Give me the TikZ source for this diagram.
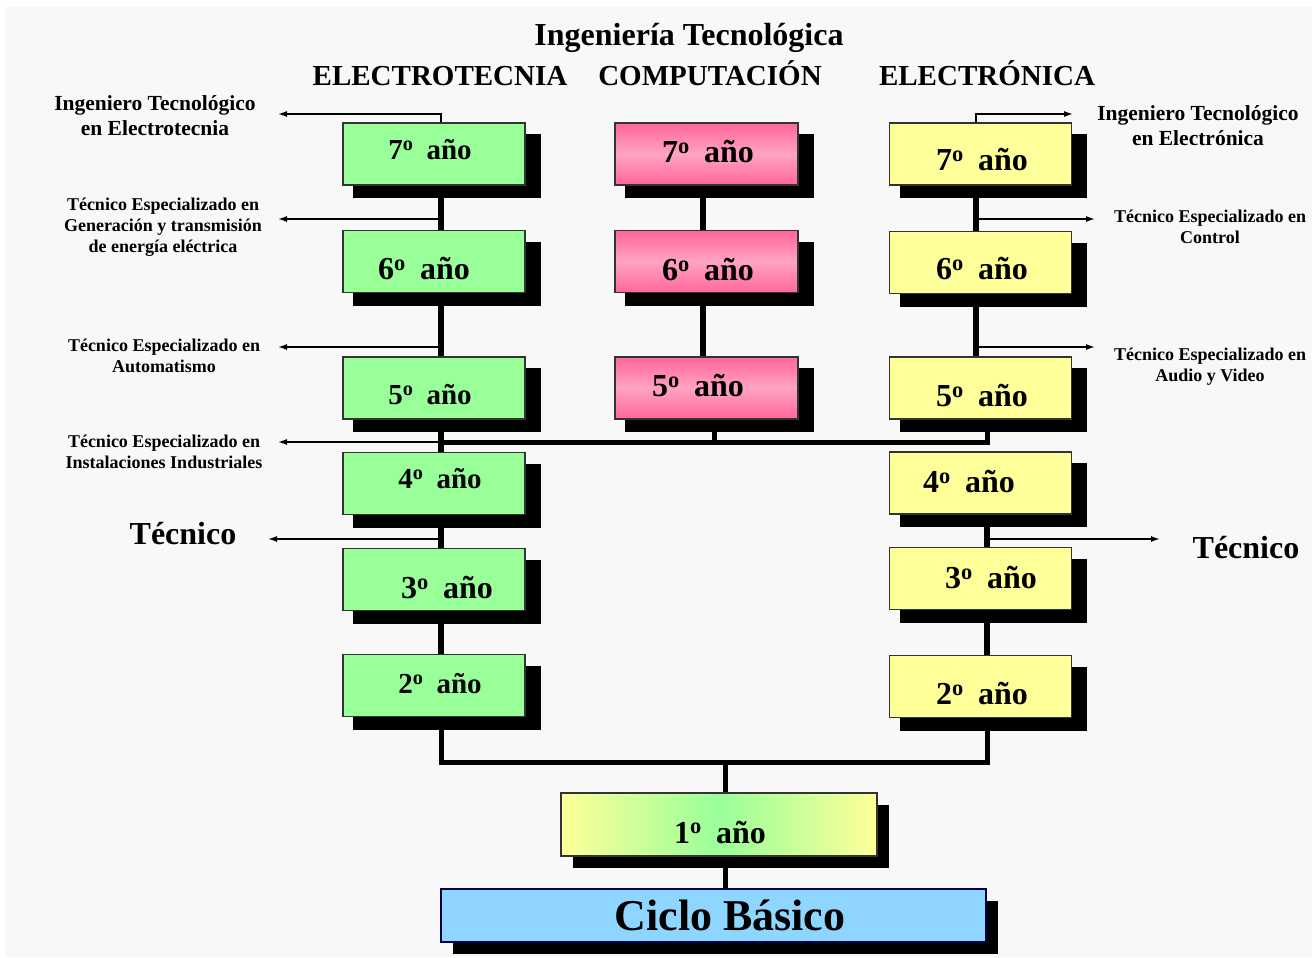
\documentclass[tikz,border=0pt]{standalone}
\usepackage{fontspec}
\setmainfont{Liberation Serif}
\usepackage{xcolor}
\usetikzlibrary{positioning,arrows.meta,shadows}
\definecolor{bgc}{HTML}{F8F8F8}
\definecolor{elecc}{HTML}{99FF99}
\definecolor{tronc}{HTML}{FFFF99}
\definecolor{pinkd}{HTML}{FF6699}
\definecolor{pinkl}{HTML}{FFA3C4}
\definecolor{basc}{HTML}{8ED6FF}
\definecolor{boxc}{HTML}{333333}
\newcommand{\anio}[1]{#1\textsuperscript{o}\hspace{0.45em}año}

\begin{document}
\begin{tikzpicture}[x=1pt,y=-1pt,
    plainbox/.style={draw=boxc, line width=1.2pt, minimum width=182pt, minimum height=62pt, inner sep=0pt},
    box/.style={plainbox,
      drop shadow={shadow xshift=12.5pt, shadow yshift=-12pt, shadow scale=1.03, opacity=1, fill=black}},
    widebox/.style={plainbox,
      drop shadow={shadow xshift=12pt, shadow yshift=-12pt, opacity=1, fill=black}},
    ebox/.style={box, fill=elecc},
    cbox/.style={box, top color=pinkd, bottom color=pinkd, middle color=pinkl},
    tbox/.style={box, fill=tronc},
    yrbig/.style={font=\bfseries\fontsize{32}{36}\selectfont},
    yrsmall/.style={font=\bfseries\fontsize{29}{33}\selectfont},
    colhead/.style={font=\bfseries\fontsize{29}{33}\selectfont, anchor=base},
    lab/.style={font=\bfseries\fontsize{18}{21}\selectfont, align=center},
    lablg/.style={font=\bfseries\fontsize{21.5}{25}\selectfont, align=center},
    tec/.style={font=\bfseries\fontsize{32}{36}\selectfont},
    spine/.style={line width=6pt},
    joinbar/.style={line width=5pt},
    outarr/.style={line width=1.5pt, -{Latex[length=9pt,width=6pt]}}]
  \useasboundingbox (0,0) rectangle (1315,958);
  \fill[bgc] (5,7) rectangle (1312,957);

  % titles
  \node[font=\bfseries\fontsize{32}{36}\selectfont, anchor=base] (titulo) at (689,46) {Ingeniería Tecnológica};
  \node[colhead] (hE) at (440,85) {ELECTROTECNIA};
  \node[colhead] (hC) at (710,85) {COMPUTACIÓN};
  \node[colhead] (hT) at (987,85) {ELECTRÓNICA};

  % ELECTROTECNIA boxes
  \foreach \n/\y in {7/154,6/261.5,5/388,4/483.5,3/579.5,2/685.5}
    {\node[ebox] (e\n) at (434,\y) {};}
  % COMPUTACION boxes
  \foreach \n/\y in {7/154,6/261.5,5/388}
    {\node[cbox, minimum width=183pt] (c\n) at (706.5,\y) {};}
  % ELECTRONICA boxes
  \foreach \n/\y in {7/154,6/262.5,5/388,4/483,3/578.5,2/686.5}
    {\node[tbox] (t\n) at (980.5,\y) {};}
  % common boxes
  \node[widebox, minimum width=316pt, minimum height=63pt, left color=tronc, right color=tronc, middle color=elecc] (b1) at (719,824.5) {};
  \node[widebox, fill=basc, draw=black!70!blue, minimum width=545pt, minimum height=53pt] (cb) at (713.5,915.5) {};

  % year texts
  \node[yrsmall] (e7t) at (430,150) {\anio{7}};
  \node[yrbig]   (e6t) at (424,269) {\anio{6}};
  \node[yrsmall] (e5t) at (430,395) {\anio{5}};
  \node[yrsmall] (e4t) at (440,479) {\anio{4}};
  \node[yrbig]   (e3t) at (447,588) {\anio{3}};
  \node[yrsmall] (e2t) at (440,684) {\anio{2}};
  \node[yrbig] (c7t) at (708,152) {\anio{7}};
  \node[yrbig] (c6t) at (708,270) {\anio{6}};
  \node[yrbig] (c5t) at (698,386) {\anio{5}};
  \node[yrbig] (t7t) at (982,160) {\anio{7}};
  \node[yrbig] (t6t) at (982,269) {\anio{6}};
  \node[yrbig] (t5t) at (982,396) {\anio{5}};
  \node[yrbig] (t4t) at (969,482) {\anio{4}};
  \node[yrbig] (t3t) at (991,578) {\anio{3}};
  \node[yrbig] (t2t) at (982,694) {\anio{2}};
  \node[yrbig] (b1t) at (720,832) {\anio{1}};
  \node[font=\bfseries\fontsize{44}{48}\selectfont] (cbt) at (730,915) {Ciclo Básico};

  % spines
  \coordinate (ex) at (441,0);
  \coordinate (cx) at (703,0);
  \coordinate (cs) at (714,0);
  \coordinate (tx) at (976,0);
  \coordinate (ty) at (987,0);
  \foreach \a/\b in {7/6,6/5,5/4,4/3,3/2}
    {\draw[spine] (e\a.south -| ex) -- (e\b.north -| ex);}
  \foreach \a/\b in {7/6,6/5}
    {\draw[spine] (c\a.south -| cx) -- (c\b.north -| cx);
     \draw[spine] (t\a.south -| tx) -- (t\b.north -| tx);}
  \foreach \a/\b in {4/3,3/2}
    {\draw[spine] (t\a.south -| ty) -- (t\b.north -| ty);}
  \coordinate (jn) at (441,442);
  \draw[joinbar] (jn) -| (t5.south -| ty);
  \draw[joinbar] (c5.south -| cs) -- (jn -| cs);
  \coordinate (split) at (725,762);
  \draw[joinbar] (e2.south -| ex) |- (split) -| (t2.south -| ty);
  \draw[joinbar] (split) -- (b1.north -| split);
  \draw[joinbar] (b1.south -| split) -- (cb.north -| split);

  % outputs
  \coordinate (aIE) at (278,114);
  \coordinate (aGT) at (278,219);
  \coordinate (aAU) at (278,347);
  \coordinate (aII) at (278,442);
  \coordinate (aTL) at (268,539);
  \coordinate (aIT) at (1073,114);
  \coordinate (aCO) at (1095,219);
  \coordinate (aAV) at (1095,347);
  \coordinate (aTR) at (1160,539);
  \draw[outarr] (e7.north -| ex) |- (aIE);
  \draw[outarr] (aGT -| ex) -- (aGT);
  \draw[outarr] (aAU -| ex) -- (aAU);
  \draw[outarr] (aII -| ex) -- (aII);
  \draw[outarr] (aTL -| ex) -- (aTL);
  \draw[outarr] (t7.north -| tx) |- (aIT);
  \draw[outarr] (aCO -| tx) -- (aCO);
  \draw[outarr] (aAV -| tx) -- (aAV);
  \draw[outarr] (aTR -| ty) -- (aTR);

  % output labels
  \node[lablg] (lIE) at (155,116) {Ingeniero Tecnológico\\en Electrotecnia};
  \node[lab] (lGT) at (163,227) {Técnico Especializado en\\Generación y transmisión\\de energía eléctrica};
  \node[lab] (lAU) at (164,356) {Técnico Especializado en\\Automatismo};
  \node[lab] (lII) at (164,452) {Técnico Especializado en\\Instalaciones Industriales};
  \node[tec] (lTL) at (183,534) {Técnico};
  \node[lablg] (lIT) at (1198,126) {Ingeniero Tecnológico\\en Electrónica};
  \node[lab] (lCO) at (1210,227) {Técnico Especializado en\\Control};
  \node[lab] (lAV) at (1210,367) {Técnico Especializado en\\Audio y Video};
  \node[tec] (lTR) at (1246,548) {Técnico};
\end{tikzpicture}
\end{document}
